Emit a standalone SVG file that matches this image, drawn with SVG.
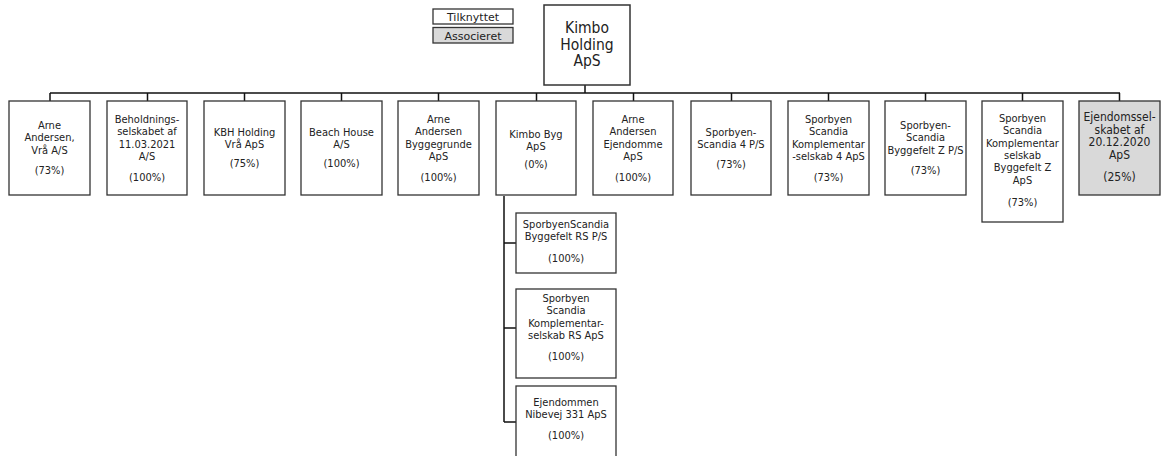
<svg xmlns="http://www.w3.org/2000/svg" width="1171" height="456" viewBox="0 0 1171 456">
<style>
.b{fill:#fff;stroke:#333;stroke-width:1.3}
.g{fill:#d9d9d9;stroke:#333;stroke-width:1.3}
.c{fill:none;stroke:#111;stroke-width:1.5}
text{font-family:"DejaVu Sans Condensed","DejaVu Sans",sans-serif;font-size:11px;fill:#222;text-anchor:middle}
.big{font-size:15.5px}
.lg{font-family:"DejaVu Sans",sans-serif;font-size:11px}
</style>
<g id="connectors">
<path class="c" d="M585 85V93M50 93H1120M50 93V101M147.5 93V101M244.5 93V101M341.5 93V101M438.5 93V101M536.5 93V101M633.5 93V101M731.5 93V101M828.5 93V101M925.5 93V101M1022.5 93V101M1119.5 93V101"/>
<path class="c" d="M504 196V422M504 243H516M504 328H516M504 422H516"/>
</g>
<g id="legend-tilknyttet"><rect class="b" x="433" y="9" width="80" height="15"/><text class="lg" x="473" y="20.5">Tilknyttet</text></g>
<g id="legend-associeret"><rect class="g" x="433" y="27.5" width="80" height="15.5"/><text class="lg" x="473" y="39.5">Associeret</text></g>
<g id="kimbo-holding"><rect class="b" x="544" y="5" width="86" height="80" style="stroke-width:1.5"/><text class="big" x="587" y="33">Kimbo</text><text class="big" x="587" y="50">Holding</text><text class="big" x="587" y="66">ApS</text></g>
<g id="n1"><rect class="b" x="9" y="101" width="81" height="94"/><text x="49.5" y="129">Arne</text><text x="49.5" y="141.3">Andersen,</text><text x="49.5" y="153.6">Vrå A/S</text><text x="49.5" y="174">(73%)</text></g>
<g id="n2"><rect class="b" x="107" y="101" width="80" height="94"/><text x="147" y="123">Beholdnings-</text><text x="147" y="135.3">selskabet af</text><text x="147" y="147.6">11.03.2021</text><text x="147" y="159.9">A/S</text><text x="147" y="181">(100%)</text></g>
<g id="n3"><rect class="b" x="204" y="101" width="81" height="94"/><text x="244.5" y="136">KBH Holding</text><text x="244.5" y="148.3">Vrå ApS</text><text x="244.5" y="167">(75%)</text></g>
<g id="n4"><rect class="b" x="301" y="101" width="81" height="94"/><text x="341.5" y="136">Beach House</text><text x="341.5" y="148.3">A/S</text><text x="341.5" y="167">(100%)</text></g>
<g id="n5"><rect class="b" x="398" y="101" width="81" height="94"/><text x="438.5" y="123">Arne</text><text x="438.5" y="135.3">Andersen</text><text x="438.5" y="147.6">Byggegrunde</text><text x="438.5" y="159.9">ApS</text><text x="438.5" y="181">(100%)</text></g>
<g id="n6"><rect class="b" x="496" y="101" width="80" height="94"/><text x="536" y="138">Kimbo Byg</text><text x="536" y="150.3">ApS</text><text x="536" y="168">(0%)</text></g>
<g id="n7"><rect class="b" x="593" y="101" width="80" height="94"/><text x="633" y="123">Arne</text><text x="633" y="135.3">Andersen</text><text x="633" y="147.6">Ejendomme</text><text x="633" y="159.9">ApS</text><text x="633" y="181">(100%)</text></g>
<g id="n8"><rect class="b" x="691" y="101" width="80" height="94"/><text x="731" y="136">Sporbyen-</text><text x="731" y="148.3">Scandia 4 P/S</text><text x="731" y="168">(73%)</text></g>
<g id="n9"><rect class="b" x="788" y="101" width="81" height="94"/><text x="828.5" y="123">Sporbyen</text><text x="828.5" y="135.3">Scandia</text><text x="828.5" y="147.6">Komplementar</text><text x="828.5" y="159.9">-selskab 4 ApS</text><text x="828.5" y="181">(73%)</text></g>
<g id="n10"><rect class="b" x="885" y="101" width="81" height="94"/><text x="925.5" y="129">Sporbyen-</text><text x="925.5" y="141.3">Scandia</text><text x="925.5" y="153.6">Byggefelt Z P/S</text><text x="925.5" y="174">(73%)</text></g>
<g id="n11"><rect class="b" x="982" y="101" width="81" height="121"/><text x="1022.5" y="122">Sporbyen</text><text x="1022.5" y="134.3">Scandia</text><text x="1022.5" y="146.6">Komplementar</text><text x="1022.5" y="158.9">selskab</text><text x="1022.5" y="171.2">Byggefelt Z</text><text x="1022.5" y="183.5">ApS</text><text x="1022.5" y="206">(73%)</text></g>
<g id="n12" style="font-size:12px"><rect class="g" x="1079" y="101" width="81" height="94"/><text x="1119.5" y="121" style="font-size:12px">Ejendomssel-</text><text x="1119.5" y="133.5" style="font-size:12px">skabet af</text><text x="1119.5" y="146" style="font-size:12px">20.12.2020</text><text x="1119.5" y="158.5" style="font-size:12px">ApS</text><text x="1119.5" y="181" style="font-size:12px">(25%)</text></g>
<g id="s1"><rect class="b" x="516" y="213" width="100" height="60"/><text x="566" y="227.5">SporbyenScandia</text><text x="566" y="239.8">Byggefelt RS P/S</text><text x="566" y="262">(100%)</text></g>
<g id="s2"><rect class="b" x="516" y="289" width="100" height="89"/><text x="566" y="302">Sporbyen</text><text x="566" y="314.3">Scandia</text><text x="566" y="326.6">Komplementar-</text><text x="566" y="338.9">selskab RS ApS</text><text x="566" y="360">(100%)</text></g>
<g id="s3"><rect class="b" x="516" y="386" width="100" height="72"/><text x="566" y="406">Ejendommen</text><text x="566" y="418.3">Nibevej 331 ApS</text><text x="566" y="439">(100%)</text></g>
</svg>
